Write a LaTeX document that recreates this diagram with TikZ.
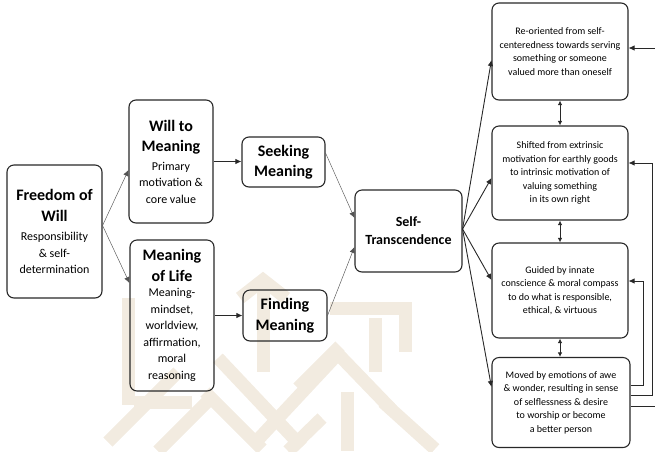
\documentclass[tikz,border=0pt]{standalone}
\usepackage{fontspec}
\setmainfont{Carlito}
\usetikzlibrary{arrows.meta}

\definecolor{ink}{RGB}{40,40,40}
\definecolor{wmark}{RGB}{242,235,224}

\newcommand{\boxtitle}[1]{{\fontsize{16}{19}\selectfont\bfseries #1}}

\tikzset{
  card/.style={draw=ink, line width=1.1pt, rounded corners=7pt, align=center,
    inner sep=2pt, text=black, font=\fontsize{12}{16.5}\selectfont},
  note/.style={card, minimum width=136pt, font=\fontsize{10}{13.5}\selectfont},
  link/.style={draw=ink, line width=0.9pt, -{Latex[length=6pt,width=5.5pt]}},
  thinlink/.style={draw=ink!80, line width=0.45pt, -{Latex[length=6pt,width=5.5pt]}},
  twoway/.style={draw=ink, line width=0.9pt, {Latex[length=4.5pt,width=4.5pt]}-{Latex[length=4.5pt,width=4.5pt]}},
  band/.style={draw=wmark, line width=13pt, line join=miter}
}

\begin{document}
\begin{tikzpicture}[x=1pt,y=-1pt]
\useasboundingbox (0,0) rectangle (655,451);

% faint interlaced emblem in the background
\begin{scope}
  \path[band] (128,298) -- (128,405);
  \path[band] (108,442) -- (178,372);
  \path[band] (158,451) -- (215,394);
  \path[band] (134,402) -- (192,402);
  \path[band] (205,392) -- (262,449);
  \path[band] (240,298) -- (263,280) -- (286,298);
  \path[band] (263,284) -- (263,372);
  \path[band] (218,358) -- (302,447);
  \path[band] (336,356) -- (252,446);
  \path[band] (330,308) -- (405,308) -- (405,352);
  \path[band] (375,318) -- (375,372);
  \path[band] (338,354) -- (392,410);
  \path[band] (298,388) -- (340,346);
  \path[band] (347,392) -- (347,451);
  \path[band] (383,402) -- (435,449);
  \path[band] (288,451) -- (322,418);
\end{scope}

% left column
\node[card, minimum width=95pt, minimum height=133pt] (fw) at (54.5,231.5)
  {\boxtitle{Freedom of}\\[4pt]\boxtitle{Will}\\[3pt]
   Responsibility\\\& self-\\determination};

\node[card, minimum width=84pt, minimum height=123pt] (wm) at (171,161.5)
  {\boxtitle{Will to}\\[4pt]\boxtitle{Meaning}\\[2pt]
   Primary\\motivation \&\\core value};

\node[card, minimum width=84pt, minimum height=151pt] (ml) at (172,315.5)
  {\boxtitle{Meaning}\\[4pt]\boxtitle{of Life}\\[-1pt]
   Meaning-\\mindset,\\worldview,\\affirmation,\\moral\\reasoning};

% middle column
\node[card, minimum width=83pt, minimum height=50pt] (sk) at (283.5,162)
  {\boxtitle{Seeking}\\[4pt]\boxtitle{Meaning}};
\node[card, minimum width=84pt, minimum height=51pt] (fd) at (285,315.5)
  {\boxtitle{Finding}\\[4pt]\boxtitle{Meaning}};

\node[card, minimum width=107pt, minimum height=82pt,
      font=\fontsize{14}{18}\selectfont\bfseries] (st) at (408.5,231)
  {Self-\\Transcendence};

% right column
\node[note, minimum height=97pt] (r1) at (560,51.5)
  {Re-oriented from self-\\centeredness towards serving\\something or someone\\valued more than oneself};
\node[note, minimum height=94pt] (r2) at (560,173)
  {Shifted from extrinsic\\motivation for earthly goods\\to intrinsic motivation of\\valuing something\\in its own right};
\node[note, minimum height=95pt] (r3) at (560,290.5)
  {Guided by innate\\conscience \& moral compass\\to do what is responsible,\\ethical, \& virtuous};
\node[note, minimum width=138pt, minimum height=90pt] (r4) at (561,402.5)
  {Moved by emotions of awe\\\& wonder, resulting in sense\\of selflessness \& desire\\to worship or become\\a better person};

% connectors, left to middle
\draw[thinlink] ([yshift=6pt]fw.east) -- ([yshift=-8.5pt]wm.west);
\draw[thinlink] ([yshift=6pt]fw.east) -- ([yshift=32.5pt]ml.west);
\draw[link] (wm.east) -- (wm.east -| sk.west);
\draw[link] (ml.east) -- (ml.east -| fd.west);
\draw[thinlink] ([yshift=9pt]sk.east) -- ([yshift=13pt]st.west);
\draw[thinlink] (fd.east) -- ([yshift=-16pt]st.west);

% connectors, centre to right
\draw[link] ([yshift=2pt]st.east) -- ([yshift=-8.5pt]r1.west);
\draw[link] ([yshift=2pt]st.east) -- ([yshift=-5pt]r2.west);
\draw[link] ([yshift=2pt]st.east) -- ([yshift=10.5pt]r3.west);
\draw[link] ([yshift=2pt]st.east) -- ([yshift=15.5pt]r4.west);

% links between neighbouring statements
\draw[twoway] (r1.south) -- (r2.north);
\draw[twoway] (r2.south) -- (r3.north);
\draw[twoway] (r3.south) -- (r4.north -| r3.south);

% feedback loops on the right
\coordinate (f3) at (643,0);
\coordinate (f2) at (652,0);
\coordinate (f1) at (662,0);
\draw[link, line width=0.8pt] ([yshift=17.5pt]r4.east) -| (f3 |- 0,281) -- ([yshift=9.5pt]r3.east);
\draw[link, line width=0.8pt] ([yshift=7.5pt]r4.east) -| (f2 |- 0,163) -- ([yshift=10pt]r2.east);
\draw[link, line width=0.8pt] ([yshift=-3.5pt]r4.east) -| (f1 |- 0,48) -- ([yshift=3.5pt]r1.east);
\end{tikzpicture}
\end{document}
